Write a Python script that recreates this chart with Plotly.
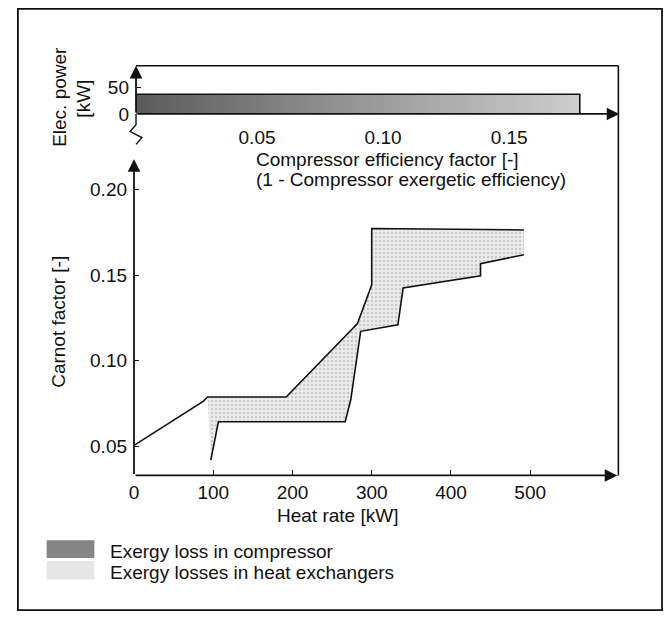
import numpy as np
import plotly.graph_objects as go

# ---------------- data ----------------
# Heat-exchanger composite curves (heat rate in kW vs Carnot factor)
hot_q = [0, 87.7, 92.7, 192, 282, 300, 300, 492]
hot_T = [0.0504, 0.0763, 0.0787, 0.0787, 0.1217, 0.1443, 0.1772, 0.1764]
cold_q = [96.9, 106.5, 266.5, 273.6, 286, 333, 339.6, 437.3, 437.3, 492]
cold_T = [0.0418, 0.0642, 0.0642, 0.0772, 0.1171, 0.1209, 0.1424, 0.1496, 0.1567, 0.1619]

# Compressor bar (efficiency factor vs electrical power)
comp_eff = 0.178
comp_power = 37

heat_ticks = [0, 100, 200, 300, 400, 500]
carnot_ticks = [0.05, 0.10, 0.15, 0.20]
eff_ticks = [0.05, 0.10, 0.15]
power_ticks = [0, 50]

legend_labels = ["Exergy loss in compressor", "Exergy losses in heat exchangers"]

# ---------------- layout helpers ----------------
W, H = 666, 624
def px(x):
    return x / W
def py(y):
    return 1 - y / H

FONT = "Liberation Sans, Arial, Helvetica, sans-serif"
FS = 19
INK = "#111111"

x_rng = [0, 610]
y_rng = [0.0328, 0.2178]
x2_rng = [0.002, 0.1937]
y2_rng = [0, 90.7]

fig = go.Figure()

# compressor bar with gradient (heatmap) + outline
n = 80
edges = np.linspace(0, comp_eff, n + 1)
fig.add_trace(go.Heatmap(
    x=edges, y=[0, comp_power], z=[np.linspace(0, 1, n)],
    colorscale=[[0, "#5a5a5a"], [0.5, "#969696"], [1, "#cdcdcd"]],
    showscale=False, hoverinfo="skip", xaxis="x2", yaxis="y2"))
fig.add_trace(go.Scatter(
    x=[0, comp_eff, comp_eff], y=[comp_power, comp_power, 0],
    mode="lines", line=dict(color=INK, width=1.6),
    xaxis="x2", yaxis="y2", hoverinfo="skip", showlegend=False))

# shaded region between curves
poly_q = hot_q[2:] + cold_q[::-1]
poly_T = hot_T[2:] + cold_T[::-1]
fig.add_trace(go.Scatter(
    x=poly_q, y=poly_T, fill="toself", mode="lines",
    line=dict(width=0), fillcolor="rgba(200,200,200,0.55)",
    fillpattern=dict(shape=".", fgcolor="#9a9a9a", bgcolor="#ececec", size=4, solidity=0.25),
    hoverinfo="skip", showlegend=False))

fig.add_trace(go.Scatter(x=hot_q, y=hot_T, mode="lines",
                         line=dict(color=INK, width=1.6), showlegend=False))
fig.add_trace(go.Scatter(x=cold_q, y=cold_T, mode="lines",
                         line=dict(color=INK, width=1.6), showlegend=False))

axis_common = dict(showgrid=False, zeroline=False, showline=False,
                   tickfont=dict(family=FONT, size=FS, color=INK),
                   tickcolor=INK, tickwidth=1.3, fixedrange=True)

fig.update_layout(
    width=W, height=H, margin=dict(l=0, r=0, t=0, b=0),
    paper_bgcolor="white", plot_bgcolor="rgba(0,0,0,0)",
    showlegend=False,
    font=dict(family=FONT, size=FS, color=INK),
    xaxis=dict(domain=[px(130), px(617)], range=x_rng, tickvals=heat_ticks,
               ticks="inside", ticklen=5, anchor="y", ticklabelstandoff=4, **axis_common),
    yaxis=dict(domain=[py(484), py(162)], range=y_rng, tickvals=carnot_ticks,
               tickformat=".2f", ticks="inside", ticklen=5, anchor="x",
               ticklabelstandoff=6, **axis_common),
    xaxis2=dict(domain=[px(132), px(619)], range=x2_rng, tickvals=eff_ticks,
                tickformat=".2f", ticks="", anchor="y2", ticklabelstandoff=10, **axis_common),
    yaxis2=dict(domain=[py(116), py(67)], range=y2_rng, tickvals=power_ticks,
                ticks="inside", ticklen=5, anchor="x2", ticklabelstandoff=6, **axis_common),
)

def axis_arrow(xref, yref, x0, y0, x1, y1):
    fig.add_annotation(x=x1, y=y1, ax=x0, ay=y0, xref=xref, yref=yref,
                       axref=xref, ayref=yref, text="", showarrow=True,
                       arrowhead=2, arrowsize=1.4, arrowwidth=1.8, arrowcolor=INK,
                       standoff=0, startstandoff=0)

axis_arrow("x", "y", x_rng[0], y_rng[0], x_rng[1], y_rng[0])
axis_arrow("x", "y", x_rng[0], y_rng[0], x_rng[0], y_rng[1])
axis_arrow("x2", "y2", x2_rng[0], 0, x2_rng[1], 0)
axis_arrow("x2", "y2", x2_rng[0], 0, x2_rng[0], y2_rng[1])

# inner box (top & right edges), outer frame, axis break
line_style = dict(color=INK, width=1.6)
fig.add_shape(type="line", xref="paper", yref="paper",
              x0=px(132), y0=py(67), x1=px(618), y1=py(67), line=line_style)
fig.add_shape(type="line", xref="paper", yref="paper",
              x0=px(618), y0=py(67), x1=px(618), y1=py(484), line=line_style)
fig.add_shape(type="rect", xref="paper", yref="paper",
              x0=px(13), y0=py(9), x1=px(662), y1=py(621), line=dict(color=INK, width=1.8))
zig = [(132, 116), (132, 127), (126, 134), (138, 140), (132, 147)]
path = "M " + " L ".join(f"{px(a):.5f},{py(b):.5f}" for a, b in zig)
fig.add_shape(type="path", xref="paper", yref="paper", path=path, line=dict(color=INK, width=1.4))

# titles
def label(text, x, y, angle=0, xanchor="center"):
    fig.add_annotation(text=text, x=px(x), y=py(y), xref="paper", yref="paper",
                       showarrow=False, textangle=angle, xanchor=xanchor, yanchor="middle",
                       font=dict(family=FONT, size=FS, color=INK), align="center")

label("Elec. power", 55, 99, angle=-90)
label("[kW]", 79, 100, angle=-90)
label("Carnot factor [-]", 54, 328, angle=-90)
label("Compressor efficiency factor [-]", 251, 162, xanchor="left")
label("(1 - Compressor exergetic efficiency)", 251, 183, xanchor="left")
label("Heat rate [kW]", 335, 525)

# legend
fig.add_shape(type="rect", xref="paper", yref="paper",
              x0=px(42), y0=py(550), x1=px(90), y1=py(568),
              line=dict(width=0), fillcolor="#858585")
fig.add_shape(type="rect", xref="paper", yref="paper",
              x0=px(42), y0=py(571), x1=px(90), y1=py(590),
              line=dict(width=0), fillcolor="#e6e6e6")
label(legend_labels[0], 104, 561, xanchor="left")
label(legend_labels[1], 104, 583, xanchor="left")

fig.write_html("out.html")
